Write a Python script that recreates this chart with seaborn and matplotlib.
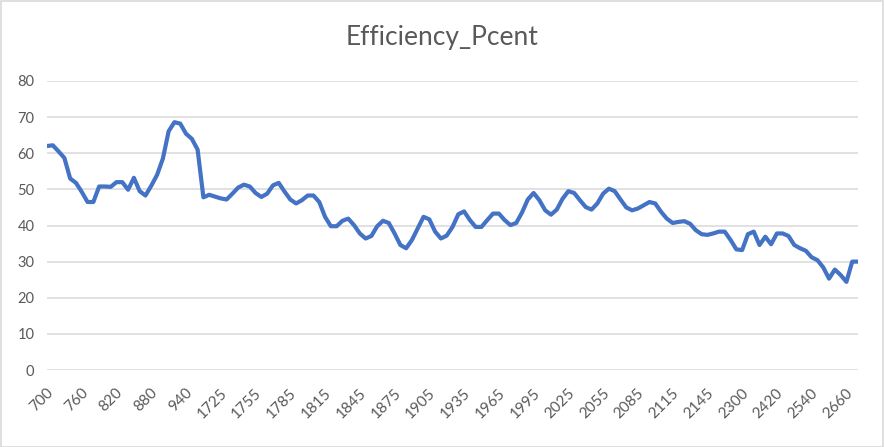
import numpy as np
import pandas as pd
import seaborn as sns
import matplotlib
matplotlib.use("Agg")
import matplotlib.pyplot as plt
import matplotlib.transforms as mtransforms
from matplotlib.patches import Rectangle

# ---- data ----
categories = ([str(700 + 10 * i) for i in range(30)]
              + [str(1725 + 5 * i) for i in range(90)]
              + [str(2300 + 20 * i) for i in range(21)])

efficiency = [
    62.0, 62.2, 60.5, 58.7, 53.0, 51.8, 49.3, 46.5, 46.5, 50.8,
    50.8, 50.7, 52.0, 52.0, 49.9, 53.2, 49.5, 48.3, 51.0, 54.0,
    58.5, 66.1, 68.6, 68.2, 65.4, 64.0, 61.0, 47.8, 48.5, 48.0,
    47.5, 47.2, 48.8, 50.5, 51.3, 50.8, 49.0, 47.9, 48.8, 51.1,
    51.8, 49.4, 47.2, 46.1, 47.0, 48.3, 48.3, 46.5, 42.4, 39.8,
    39.8, 41.3, 41.9, 40.1, 37.8, 36.4, 37.1, 39.8, 41.3, 40.7,
    37.8, 34.6, 33.7, 36.0, 39.2, 42.4, 41.7, 38.3, 36.4, 37.2,
    39.6, 43.1, 43.9, 41.5, 39.6, 39.6, 41.5, 43.3, 43.3, 41.5,
    40.1, 40.7, 43.6, 47.2, 49.0, 47.0, 44.2, 43.0, 44.4, 47.4,
    49.5, 49.0, 47.0, 45.1, 44.4, 46.1, 48.8, 50.2, 49.5, 47.2,
    45.0, 44.2, 44.7, 45.6, 46.5, 46.1, 43.8, 41.9, 40.7, 41.0,
    41.2, 40.5, 38.7, 37.6, 37.4, 37.8, 38.3, 38.3, 36.0, 33.4,
    33.2, 37.6, 38.3, 34.6, 36.9, 34.8, 37.8, 37.8, 37.1, 34.6,
    33.7, 33.0, 31.2, 30.4, 28.4, 25.3, 27.8, 26.3, 24.4, 30.0,
    30.0,
]
y_ticks = [0, 10, 20, 30, 40, 50, 60, 70, 80]
title = "Efficiency_Pcent"
label_step = 6

df = pd.DataFrame({"pos": np.arange(len(categories)),
                   "category": categories,
                   "value": efficiency})

# ---- style ----
sns.set_style("white")
plt.rcParams["font.family"] = ["Lato", "DejaVu Sans"]

W, H = 884, 447
fig = plt.figure(figsize=(W / 100, H / 100), dpi=100)
ax = fig.add_axes([47 / W, 1 - 370 / H, (858 - 47) / W, (370 - 81) / H])

sns.lineplot(data=df, x="pos", y="value", ax=ax, color="#4472C4",
             linewidth=3.0, solid_joinstyle="round", solid_capstyle="round")

ax.set_xlim(0, len(categories) - 1)
ax.set_ylim(0, 80)
ax.set_yticks(y_ticks)
ax.set_yticklabels([str(t) for t in y_ticks])
tick_pos = df["pos"].values[::label_step]
ax.set_xticks(tick_pos)
ax.set_xticklabels(df["category"].values[::label_step], rotation=45,
                   ha="right", va="center", rotation_mode="anchor")
ax.tick_params(axis="x", length=0, pad=15, labelsize=11, labelcolor="#595959")
ax.tick_params(axis="y", length=0, pad=9, labelsize=10.5, labelcolor="#595959")
shift = mtransforms.ScaledTranslation(4 / 100, 0, fig.dpi_scale_trans)
for lbl in ax.get_xticklabels():
    lbl.set_transform(lbl.get_transform() + shift)
ax.set_xlabel("")
ax.set_ylabel("")
ax.grid(axis="y", color="#d9d9d9", linewidth=1.1)
ax.grid(axis="x", visible=False)
ax.set_axisbelow(True)
for s in ax.spines.values():
    s.set_visible(False)

fig.text(0.5, 1 - 37 / H, title, ha="center", va="center",
         fontsize=19, color="#595959")

fig.patches.append(Rectangle((0.5 / W, 0.5 / H), 1 - 1.5 / W, 1 - 1.5 / H,
                             transform=fig.transFigure, fill=False,
                             edgecolor="#d9d9d9", linewidth=1.2))

fig.savefig("out.png", dpi=100)
